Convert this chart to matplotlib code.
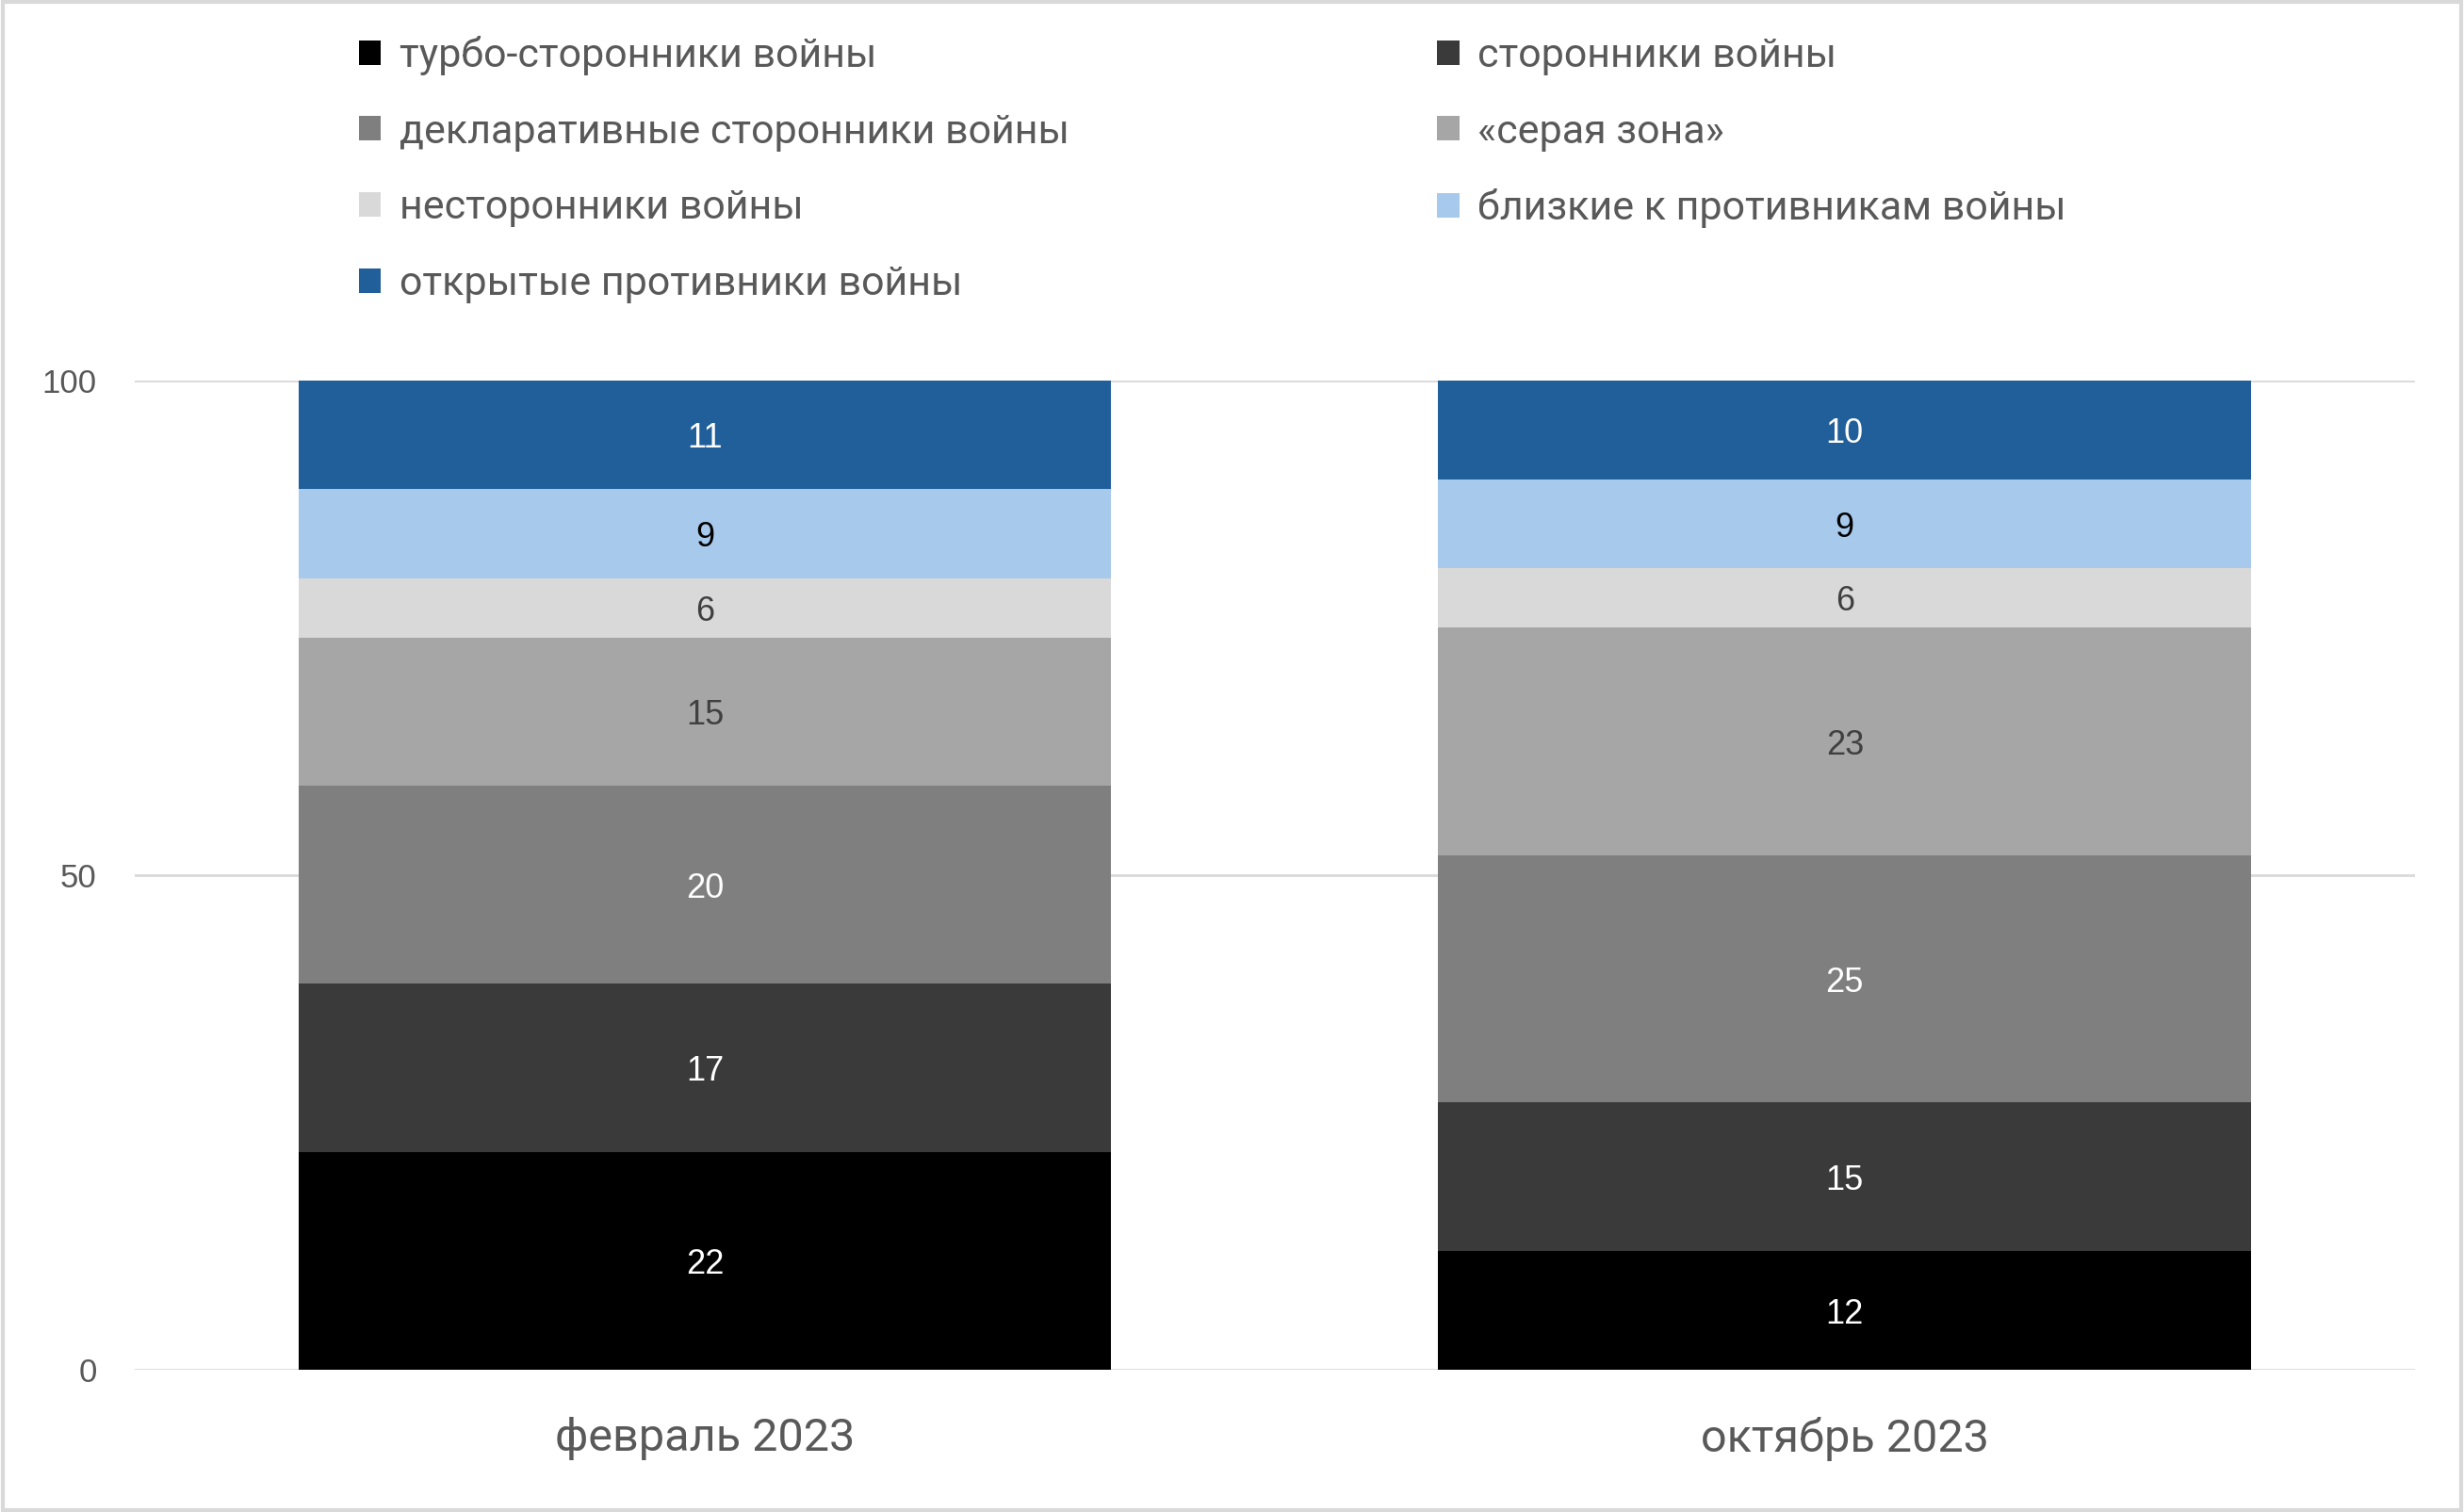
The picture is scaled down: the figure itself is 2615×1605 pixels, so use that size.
import matplotlib
matplotlib.use("Agg")
import matplotlib.pyplot as plt
from matplotlib.patches import Rectangle, Patch

periods = ["февраль 2023", "октябрь 2023"]
groups = ["турбо-сторонники войны", "сторонники войны",
          "декларативные сторонники войны", "«серая зона»",
          "несторонники войны", "близкие к противникам войны",
          "открытые противники войны"]
feb = [22, 17, 20, 15, 6, 9, 11]
oct_ = [12, 15, 25, 23, 6, 9, 10]
colors = ["#000000", "#3a3a3a", "#7f7f7f", "#a6a6a6", "#d9d9d9", "#a7c9eb", "#215f9a"]
label_colors = ["white", "white", "white", "#404040", "#404040", "black", "white"]

narrow = ["Liberation Sans Narrow", "Roboto", "DejaVu Sans"]
plain = ["Liberation Sans", "DejaVu Sans"]
grey_txt = "#595959"

fig = plt.figure(figsize=(26.15, 16.05), dpi=100)
ax = fig.add_axes([0.0547, 0.0941, 0.9253, 0.6544])

x = [0, 1]
bottoms = [0, 0]
for i, g in enumerate(groups):
    vals = [feb[i], oct_[i]]
    ax.bar(x, vals, 0.713, bottom=bottoms, color=colors[i], label=g, zorder=2)
    for xi, v, bt in zip(x, vals, bottoms):
        ax.text(xi, bt + v / 2 - 0.4, str(v), ha="center", va="center",
                fontsize=26, color=label_colors[i], family=plain, zorder=3)
    bottoms = [bottoms[0] + vals[0], bottoms[1] + vals[1]]

ax.set_xlim(-0.5, 1.5)
ax.set_ylim(0, 100)
ax.set_yticks([0, 50, 100])
ax.yaxis.grid(True, color="#d9d9d9", lw=2, zorder=0)
ax.set_axisbelow(True)
for s in ax.spines.values():
    s.set_visible(False)
ax.tick_params(axis="both", length=0)
ax.tick_params(axis="y", pad=29, labelsize=25, labelcolor=grey_txt)
ax.tick_params(axis="x", pad=36, labelsize=35, labelcolor=grey_txt)
ax.set_xticks(x)
ax.set_xticklabels(periods, family=narrow)
for t in ax.get_yticklabels():
    t.set_family(plain)

# legend: two columns, filled row-wise like the original
order = [0, 2, 4, 6, 1, 3, 5]
handles = [Patch(facecolor=colors[i]) for i in order]
labels = [groups[i] for i in order]
leg = fig.legend(handles, labels, ncol=2, loc="upper left",
                 bbox_to_anchor=(0.139, 0.987), frameon=False,
                 prop={"family": narrow, "size": 31},
                 handlelength=0.55, handleheight=0.55, handletextpad=0.45,
                 labelspacing=0.92, columnspacing=9.06, borderaxespad=0)
for t in leg.get_texts():
    t.set_color(grey_txt)

fig.patches.append(Rectangle((0.001, 0.001), 0.998, 0.998, transform=fig.transFigure,
                             fill=False, edgecolor="#d9d9d9", lw=3))

fig.savefig("out.png", dpi=100)
